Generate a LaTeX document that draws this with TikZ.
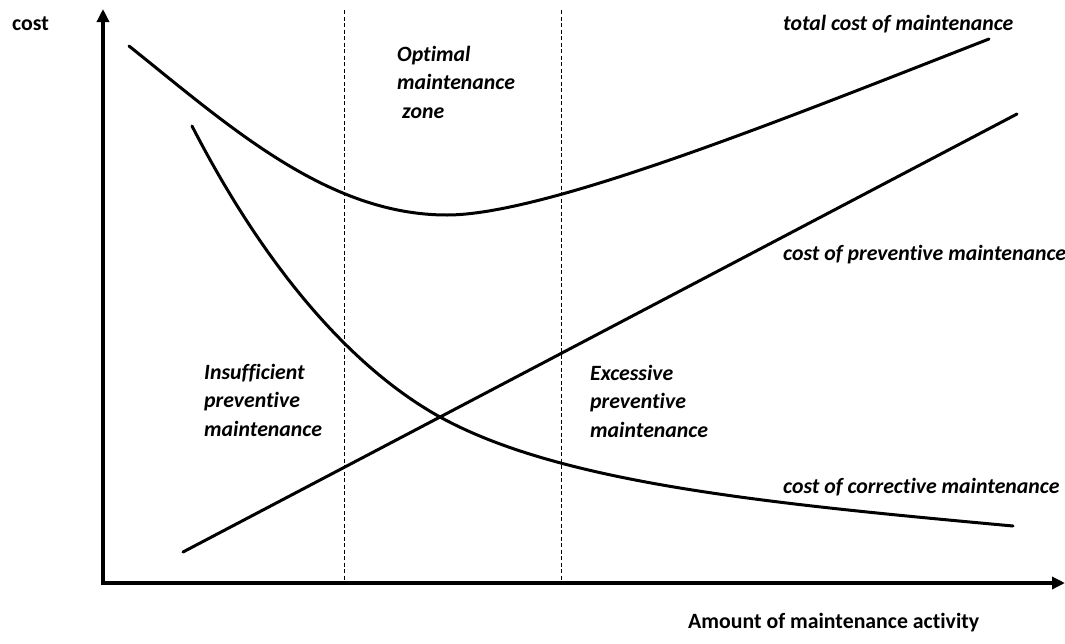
\documentclass[tikz,border=0pt]{standalone}
\usepackage{fontspec}
\setmainfont{Carlito}[Ligatures=NoCommon]
\usetikzlibrary{arrows.meta}

\begin{document}
\begin{tikzpicture}[x=1pt,y=-1pt,
    curve/.style={line width=3pt,line cap=round},
    axis/.style={line width=3.5pt,-{Triangle[length=13pt,width=12pt]}},
    zoneline/.style={line width=1pt,dash pattern=on 4pt off 2.5pt},
    lbl/.style={anchor=west,inner sep=0pt,align=left,font=\fontsize{21.8}{28.5}\selectfont\bfseries\itshape},
    axlbl/.style={anchor=west,inner sep=0pt,font=\fontsize{21.8}{26}\selectfont\bfseries}]
    \useasboundingbox (0,0) rectangle (1065,643);

    % Axes
    \coordinate (O) at (103,585);
    \coordinate (ytip) at (103,9);
    \coordinate (xtip) at (1065,583);
    \draw[axis] (O) -- (ytip);
    \draw[axis] (101.25,583) -- (xtip);

    % Borders of the optimal zone
    \coordinate (z1top) at (344,10);
    \coordinate (z1bot) at (344,583);
    \coordinate (z2top) at (561,10);
    \coordinate (z2bot) at (561,583);
    \draw[zoneline] (z1top) -- (z1bot);
    \draw[zoneline] (z2top) -- (z2bot);

    % Total cost
    \coordinate (t1) at (129,46);
    \coordinate (tmin) at (447,215);
    \coordinate (t2) at (989,39);
    \draw[curve] (t1) .. controls (229,126) and (327,215) .. (tmin)
        .. controls (547,215) and (789,117) .. (t2);

    % Preventive cost
    \coordinate (p1) at (183,552);
    \coordinate (p2) at (1017,114);
    \draw[curve] (p1) -- (p2);

    % Corrective cost
    \coordinate (c1) at (192,126);
    \coordinate (cx) at (440,417);
    \coordinate (c2) at (1013,526);
    \draw[curve] (c1) .. controls (264,266) and (350,367) .. (cx)
        .. controls (560,483) and (763,503) .. (c2);

    % Axis labels
    \node[axlbl] (cost) at (12,24) {cost};
    \node[axlbl] (amount) at (688,623) {Amount of maintenance activity};

    % Zone labels
    \node[lbl] (optimal) at (397,82) {Optimal\\maintenance\\\hspace*{5pt}zone};
    \node[lbl] (insufficient) at (204,400) {Insufficient\\preventive\\maintenance};
    \node[lbl] (excessive) at (590,401) {Excessive\\preventive\\maintenance};

    % Curve labels
    \node[lbl] (total) at (783,24) {total cost of maintenance};
    \node[lbl] (preventive) at (783,255) {cost of preventive maintenance};
    \node[lbl] (corrective) at (783,487) {cost of corrective maintenance};
\end{tikzpicture}
\end{document}
